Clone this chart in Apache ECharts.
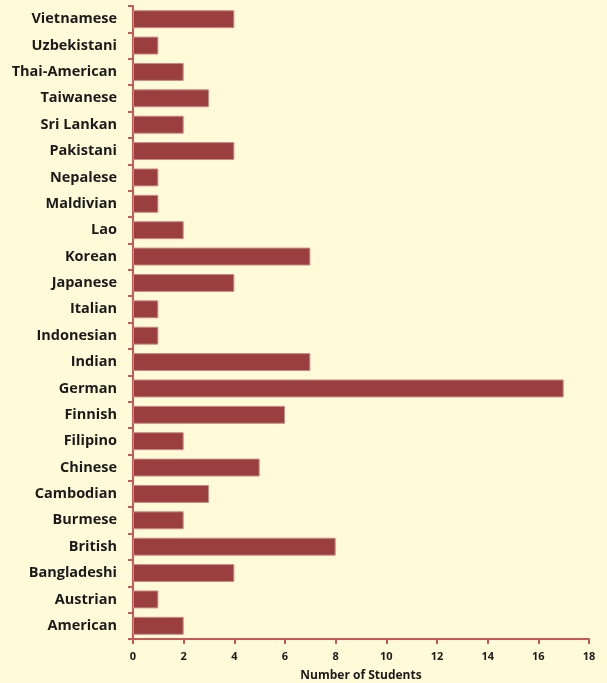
<!DOCTYPE html>
<html><head><meta charset="utf-8">
<script src="https://cdn.jsdelivr.net/npm/echarts@6/dist/echarts.min.js"></script>
<style>html,body{margin:0;padding:0;background:#FFFAD7;}#c{width:607px;height:683px;}</style>
</head><body><div id="c"></div>
<script>
const categories = ["American","Austrian","Bangladeshi","British","Burmese","Cambodian","Chinese","Filipino","Finnish","German","Indian","Indonesian","Italian","Japanese","Korean","Lao","Maldivian","Nepalese","Pakistani","Sri Lankan","Taiwanese","Thai-American","Uzbekistani","Vietnamese"];
const students = [2,1,4,8,2,3,5,2,6,17,7,1,1,4,7,2,1,1,4,2,3,2,1,4];
const xTicks = {min:0, max:18, interval:2};
const chart = echarts.init(document.getElementById('c'));
chart.setOption({
  backgroundColor:'#FFFAD7',
  animation:false,
  grid:{left:133,right:18,top:6,bottom:44,containLabel:false,outerBoundsMode:'none'},
  xAxis:{type:'value',min:xTicks.min,max:xTicks.max,interval:xTicks.interval,
    name:'Number of Students',nameLocation:'middle',nameGap:31,
    nameTextStyle:{fontFamily:'Open Sans',fontWeight:'bold',fontSize:12,color:'#1a1a1a'},
    axisLine:{show:true,lineStyle:{color:'#C9585A',width:2}},
    axisTick:{show:true,length:5,lineStyle:{color:'#C9585A',width:2}},
    axisLabel:{fontFamily:'Open Sans',fontWeight:'bold',fontSize:11,color:'#1a1a1a',margin:12},
    splitLine:{show:false}},
  yAxis:{type:'category',data:categories,
    axisLine:{show:true,lineStyle:{color:'#C9585A',width:2}},
    axisTick:{show:true,length:5,lineStyle:{color:'#C9585A',width:2}},
    axisLabel:{fontFamily:'Open Sans',fontWeight:'bold',fontSize:14.5,color:'#1a1a1a',margin:16}},
  series:[{type:'bar',data:students,barCategoryGap:'32%',
    itemStyle:{color:'#9B3E3F',borderColor:'#C98A86',borderWidth:1}}]
});
</script></body></html>
